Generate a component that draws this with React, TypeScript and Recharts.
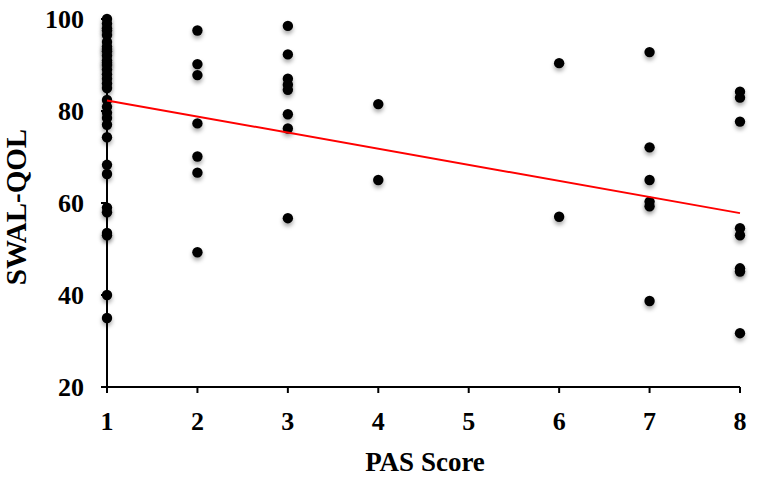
import React from 'react';
import { ScatterChart, Scatter, XAxis, YAxis } from 'recharts';

// PAS score on x, SWAL-QOL on y, one array per PAS group
const pas1 = [100, 99, 98, 97.5, 96.5, 95, 94, 93.5, 93, 92, 91, 90.5, 90, 89, 88, 87, 86, 85, 82.4, 80.9, 79.6, 78.5, 77, 74.3, 68.3, 66.3, 59, 58, 53.5, 53, 40, 35];
const pas2 = [97.5, 90.2, 87.8, 77.3, 70.1, 66.6, 49.3];
const pas3 = [98.5, 92.3, 87, 85.7, 84.6, 79.3, 76.2, 56.7];
const pas4 = [81.5, 65];
const pas6 = [90.4, 57];
const pas7 = [92.8, 72.1, 65, 60.3, 59.3, 38.7];
const pas8 = [84.2, 82.9, 77.7, 54.5, 53, 45.8, 45.1, 31.7];

const groups: [number, number[]][] = [
  [1, pas1], [2, pas2], [3, pas3], [4, pas4], [6, pas6], [7, pas7], [8, pas8],
];

const points = groups.flatMap(([x, ys]) => ys.map((y) => ({ x, y })));

// fitted line
const trend = [
  { x: 1, y: 82.3 },
  { x: 8, y: 57.8 },
];

const xTicks = [1, 2, 3, 4, 5, 6, 7, 8];
const yTicks = [20, 40, 60, 80, 100];

const font = 'Liberation Serif, Times New Roman, serif';
const tickStyle = { fill: '#000', fontSize: 26, fontWeight: 700, fontFamily: font };

const Dot = (props: any) => (
  <circle
    cx={props.cx}
    cy={props.cy}
    r={5.2}
    fill="#000"
    style={{ filter: 'drop-shadow(0px 3px 2px rgba(0,0,0,0.35))' }}
  />
);

const App = () => (
  <div style={{ position: 'absolute', left: 0, top: 0, width: 762, height: 480, background: '#fff' }}>
    <ScatterChart width={762} height={480} margin={{ top: 19, right: 22, left: 0, bottom: 0 }}>
      <XAxis
        type="number"
        dataKey="x"
        domain={[1, 8]}
        ticks={xTicks}
        height={93}
        axisLine={{ stroke: '#000', strokeWidth: 2 }}
        tickLine={{ stroke: '#000', strokeWidth: 2 }}
        tickSize={6}
        tickMargin={19}
        tick={tickStyle}
        label={{
          content: () => (
            <text x={425} y={471} textAnchor="middle" fill="#000" fontSize={27} fontWeight={700} fontFamily={font}>
              PAS Score
            </text>
          ),
        }}
      />
      <YAxis
        type="number"
        dataKey="y"
        domain={[20, 100]}
        ticks={yTicks}
        width={107}
        axisLine={{ stroke: '#000', strokeWidth: 2 }}
        tickLine={{ stroke: '#000', strokeWidth: 2 }}
        tickSize={6}
        tickMargin={17}
        tick={tickStyle}
        label={{
          content: () => (
            <text
              x={26}
              y={207}
              transform="rotate(-90 26 207)"
              textAnchor="middle"
              fill="#000"
              fontSize={29}
              fontWeight={700}
              fontFamily={font}
            >
              SWAL-QOL
            </text>
          ),
        }}
      />
      <Scatter data={points} shape={Dot} isAnimationActive={false} />
      <Scatter
        data={trend}
        line={{ stroke: '#ff0000', strokeWidth: 2 }}
        shape={() => <g />}
        isAnimationActive={false}
      />
    </ScatterChart>
  </div>
);

export default App;
